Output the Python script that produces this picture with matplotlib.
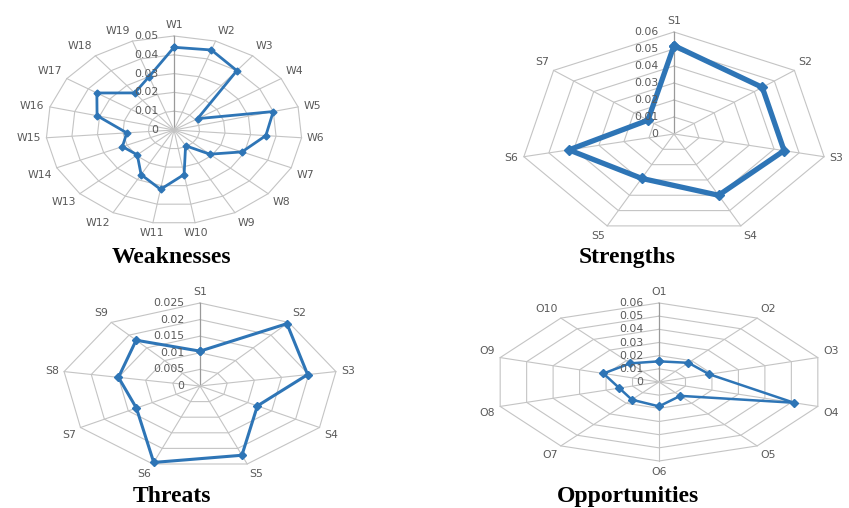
import numpy as np
import matplotlib
matplotlib.use('Agg')
import matplotlib.pyplot as plt

# ---------------- data ----------------
W_labels = [f'W{i}' for i in range(1, 20)]
W_values = [0.044, 0.045, 0.040, 0.011, 0.040, 0.036, 0.029, 0.019, 0.0095, 0.024,
            0.032, 0.027, 0.0195, 0.022, 0.0185, 0.031, 0.036, 0.025, 0.030]
W_ticks = [0, 0.01, 0.02, 0.03, 0.04, 0.05]
W_ticklabels = ['0', '0.01', '0.02', '0.03', '0.04', '0.05']

S_labels = [f'S{i}' for i in range(1, 8)]
S_values = [0.052, 0.044, 0.044, 0.040, 0.029, 0.042, 0.013]
S_ticks = [0, 0.01, 0.02, 0.03, 0.04, 0.05, 0.06]
S_ticklabels = ['0', '0.01', '0.02', '0.03', '0.04', '0.05', '0.06']

T_labels = [f'S{i}' for i in range(1, 10)]
T_values = [0.0105, 0.0245, 0.0198, 0.012, 0.0222, 0.0245, 0.0133, 0.015, 0.018]
T_ticks = [0, 0.005, 0.01, 0.015, 0.02, 0.025]
T_ticklabels = ['0', '0.005', '0.01', '0.015', '0.02', '0.025']

O_labels = [f'O{i}' for i in range(1, 11)]
O_values = [0.0157, 0.018, 0.019, 0.051, 0.013, 0.0185, 0.0166, 0.015, 0.021, 0.0175]
O_ticks = [0, 0.01, 0.02, 0.03, 0.04, 0.05, 0.06]
O_ticklabels = ['0', '0.01', '0.02', '0.03', '0.04', '0.05', '0.06']

titles = ['Weaknesses', 'Strengths', 'Threats', 'Opportunities']

# ---------------- style ----------------
W_PX, H_PX = 849, 508
BLUE = '#2e75b6'
GRID = '#c4c4c4'
AXIS = '#9a9a9a'
TXT = '#595959'
LABEL_FONT = ['DejaVu Sans']

fig = plt.figure(figsize=(W_PX / 100, H_PX / 100), dpi=100)
fig.patch.set_facecolor('white')


def radar(cx, cy, rx, ry, labels, values, ticks, ticklabels, lw, ms, fs=7.8):
    rect = [(cx - rx) / W_PX, (H_PX - cy - ry) / H_PX, 2 * rx / W_PX, 2 * ry / H_PX]
    ax = fig.add_axes(rect, projection='polar')
    ax.set_theta_zero_location('N')
    ax.set_theta_direction(-1)
    rmax = ticks[-1]
    ax.set_ylim(0, rmax)
    ax.set_aspect('auto')
    ax.axis('off')
    n = len(labels)
    th = np.arange(n) * 2 * np.pi / n
    thc = np.append(th, th[0])
    # rings
    for t in ticks[1:]:
        ax.plot(thc, [t] * (n + 1), color=GRID, lw=0.8, clip_on=False, zorder=1)
    # spokes
    for i, a in enumerate(th):
        ax.plot([a, a], [0, rmax], color=AXIS if i == 0 else GRID,
                lw=0.9 if i == 0 else 0.8, clip_on=False, zorder=1)
    # data
    vals = list(values) + [values[0]]
    ax.plot(thc, vals, color=BLUE, lw=lw, marker='D', ms=ms,
            markerfacecolor=BLUE, markeredgecolor=BLUE, clip_on=False, zorder=3,
            solid_joinstyle='round')
    # category labels
    for a, lab in zip(th, labels):
        s, c = np.sin(a), np.cos(a)
        ha = 'left' if s > 0.3 else ('right' if s < -0.3 else 'center')
        va = 'bottom' if c > 0.3 else ('top' if c < -0.3 else 'center')
        ax.annotate(lab, xy=(a, rmax), xytext=(4 * s, 4 * c), textcoords='offset points',
                    ha=ha, va=va, fontsize=fs, color=TXT, family=LABEL_FONT,
                    annotation_clip=False)
    # value tick labels
    for t, tl in zip(ticks, ticklabels):
        ax.annotate(tl, xy=(0, t), xytext=(-11, 0), textcoords='offset points',
                    ha='right', va='center', fontsize=fs, color=TXT, family=LABEL_FONT,
                    annotation_clip=False, zorder=4)
    return ax


radar(174, 130, 128, 94, W_labels, W_values, W_ticks, W_ticklabels, lw=2.0, ms=3.5)
radar(674, 134, 154, 102, S_labels, S_values, S_ticks, S_ticklabels, lw=3.8, ms=5.5)
radar(200, 386, 138, 83, T_labels, T_values, T_ticks, T_ticklabels, lw=2.2, ms=4)
radar(659, 382, 167, 79, O_labels, O_values, O_ticks, O_ticklabels, lw=1.8, ms=4)

title_pos = [(171, 263), (627, 263), (172, 502), (628, 502)]
for t, (x, y) in zip(titles, title_pos):
    fig.text(x / W_PX, 1 - y / H_PX, t, ha='center', va='baseline',
             family=['Liberation Serif', 'DejaVu Serif'], fontweight='bold',
             fontsize=17, color='black')

fig.savefig('out.png', dpi=100)
